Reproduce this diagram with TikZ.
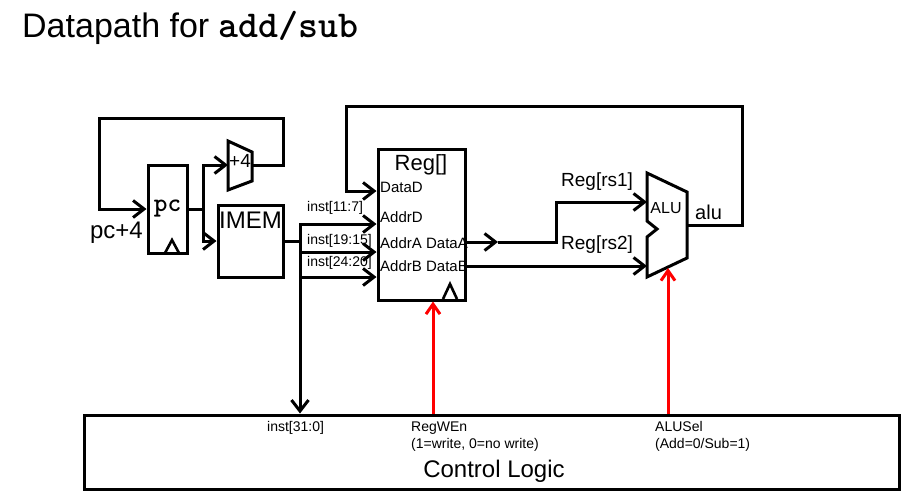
\documentclass[tikz,border=0pt]{standalone}
\usepackage{fontspec}
\setmainfont{Liberation Sans}
\usepackage{tikz}
\usetikzlibrary{arrows.meta}

\begin{document}
\begin{tikzpicture}[x=1pt, y=-1pt, >={Straight Barb[length=11pt,width=17pt]},
  wire/.style={line width=3pt},
  ctl/.style={line width=3pt, red, -{Straight Barb[length=10pt,width=14pt]}},
  block/.style={draw, line width=3pt, inner sep=0},
  port/.style={inner sep=0, font=\fontsize{15}{18}\selectfont},
  tiny/.style={inner sep=0, font=\fontsize{14}{17}\selectfont, align=left},
  mid/.style={inner sep=0, font=\fontsize{19}{22}\selectfont},
  big/.style={inner sep=0, font=\fontsize{24}{28}\selectfont}]
\useasboundingbox (0,0) rectangle (916,501);
\node[inner sep=0, anchor=base west, font=\fontsize{34}{40}\selectfont] (title) at (22,37) {Datapath for {\ttfamily\bfseries\fontsize{38}{40}\selectfont add/sub}};
%blocks
\node[block, minimum width=39, minimum height=88, font=\ttfamily\bfseries\fontsize{26}{28}\selectfont] (pc) at (167.5,209) {pc};
\node[big, anchor=east] (pcnext) at (143,233) {pc+4};
\node[block, minimum width=65, minimum height=72] (imem) at (250.5,241) {};
\node[big] (imemlbl) at (250.5,220) {IMEM};
\node[block, minimum width=87, minimum height=151] (reg) at (421.5,224.5) {};
\node[inner sep=0, font=\fontsize{22}{26}\selectfont] (reglbl) at (421,165) {Reg[]};
\node[port, anchor=west] (dataD) at (380,187) {DataD};
\node[port, anchor=west] (addrD) at (380,217) {AddrD};
\node[port, anchor=west] (addrA) at (380,243) {AddrA};
\node[port, anchor=west] (addrB) at (380,266) {AddrB};
\node[port, anchor=east] (dataA) at (468,243) {DataA};
\node[port, anchor=east] (dataB) at (468,266) {DataB};
\node[block, minimum width=815, minimum height=74] (ctrl) at (491.5,452) {};
\draw[line width=2.6pt] (165,253) -- (172,240) -- (179,253);
\draw[line width=2.6pt] (443,299) -- (450,284) -- (457,299);
%adder and alu
\draw[wire] (228,141) -- (252,152) -- (252,181) -- (228,190) -- cycle;
\node[inner sep=0, font=\fontsize{19}{22}\selectfont] (plus4) at (240,161) {+4};
\coordinate (addin) at (228,165);
\coordinate (addout) at (252,165);
\draw[wire] (647,173) -- (687,192) -- (687,258) -- (647,277) -- (647,237) -- (657,229) -- (647,221) -- cycle;
\node[inner sep=0, font=\fontsize{16}{19}\selectfont] (alulbl) at (666,208) {ALU};
\coordinate (ain1) at (647,202);
\coordinate (ain2) at (647,266);
\coordinate (aout) at (687,225);
%wires
\draw[wire,->] (addout) -- (283,165) -- (283,118) -- (99,118) -- (99,209) -- (pc.west);
\coordinate (pcsplit) at (203,209);
\draw[wire] (pc.east) -- (pcsplit);
\draw[wire,->] (pcsplit) |- (addin);
\draw[wire,->] (pcsplit) |- (imem.west);
\coordinate (bus) at (300,224);
\draw[wire] (imem.east) -- (imem.east -| bus);
\draw[wire,<->] (bus -| reg.west) -- (bus) -- (bus |- ctrl.north);
\draw[wire,->] (bus |- 0,252) -- (reg.west |- 0,252);
\draw[wire,->] (bus |- 0,277) -- (reg.west |- 0,277);
\coordinate (dA) at (498,242);
\draw[wire,->] (reg.east |- dA) -- (dA);
\draw[wire,->] (dA) -- (556,242) -- (556,202) -- (ain1);
\draw[wire,->] (reg.east |- ain2) -- (ain2);
\draw[wire,->] (aout) -- (742,225) -- (742,106) -- (346,106) -- (346,191) -- (reg.west |- 0,191);
\draw[ctl] (ctrl.north -| 433,0) -- (reg.south -| 433,0);
\draw[ctl] (ctrl.north -| 668,0) -- (668,268);
%labels
\node[tiny, anchor=west] (i117) at (307,208) {inst[11:7]};
\node[tiny, anchor=west] (i1915) at (307,241) {inst[19:15]};
\node[tiny, anchor=west] (i2420) at (307,263) {inst[24:20]};
\node[mid, anchor=west] (rs1) at (561,182) {Reg[rs1]};
\node[mid, anchor=west] (rs2) at (561,245) {Reg[rs2]};
\node[inner sep=0, anchor=west, font=\fontsize{20}{24}\selectfont] (aluout) at (695,212) {alu};
\node[tiny, anchor=west] (inst) at (267,428) {inst[31:0]};
\node[tiny, anchor=west] (wen) at (411,436.5) {RegWEn\\(1=write, 0=no write)};
\node[tiny, anchor=west] (asel) at (655,436.5) {ALUSel\\(Add=0/Sub=1)};
\node[big] (ctrllbl) at (494,471) {Control Logic};
\end{tikzpicture}
\end{document}
